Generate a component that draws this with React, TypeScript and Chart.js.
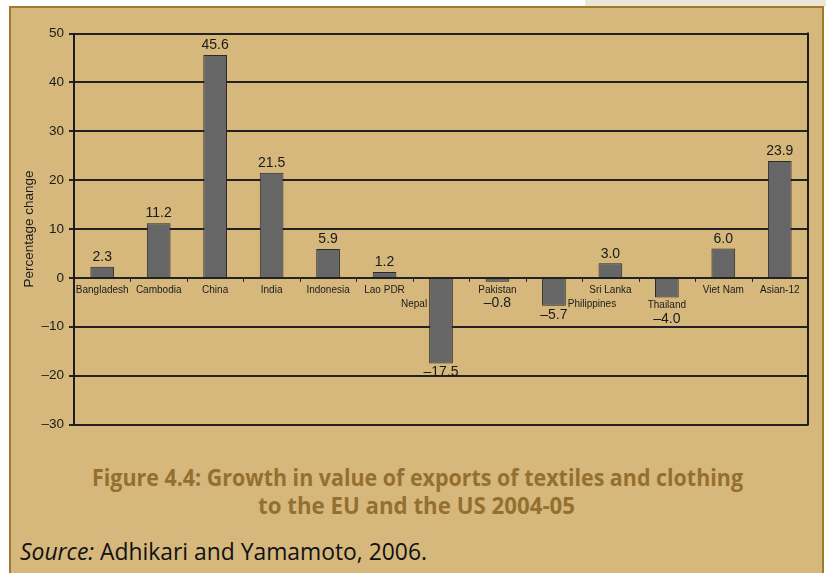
import React, { useEffect, useLayoutEffect, useRef } from "react";
import { Chart, registerables } from "chart.js";

Chart.register(...registerables);

const categories = [
  "Bangladesh", "Cambodia", "China", "India", "Indonesia", "Lao PDR", "Nepal",
  "Pakistan", "Philippines", "Sri Lanka", "Thailand", "Viet Nam", "Asian-12",
];
const growth = [2.3, 11.2, 45.6, 21.5, 5.9, 1.2, -17.5, -0.8, -5.7, 3.0, -4.0, 6.0, 23.9];
const yMin = -30;
const yMax = 50;
const yStep = 10;

const titleLines = [
  "Figure 4.4: Growth in value of exports of textiles and clothing",
  "to the EU and the US 2004-05",
];
const sourceLabel = "Source:";
const sourceText = " Adhikari and Yamamoto, 2006.";

// label layout hints (which negative bars carry their name beside the bar)
const sideLabel: Record<string, "left" | "right"> = { Nepal: "left", Philippines: "right" };

const dash = (v: number) => (v < 0 ? "\u2013" + Math.abs(v) : String(v));
const fmt = (v: number) => (v < 0 ? "\u2013" + Math.abs(v).toFixed(1) : v.toFixed(1));

const labelsPlugin = {
  id: "customLabels",
  afterDatasetsDraw(chart: any) {
    const { ctx, chartArea } = chart;
    const y = chart.scales.y;
    const y0 = y.getPixelForValue(0);
    ctx.save();
    ctx.strokeStyle = "#1c1c1c";
    ctx.lineWidth = 2;
    ctx.beginPath();
    ctx.moveTo(chartArea.right, chartArea.top - 1);
    ctx.lineTo(chartArea.right, chartArea.bottom + 1);
    ctx.stroke();
    ctx.lineWidth = 1;
    const n = categories.length;
    const step = (chartArea.right - chartArea.left) / n;
    for (let i = 1; i < n; i++) {
      const bx = Math.round(chartArea.left + step * i) + 0.5;
      ctx.beginPath();
      ctx.moveTo(bx, y0);
      ctx.lineTo(bx, y0 + 4);
      ctx.stroke();
    }
    const meta = chart.getDatasetMeta(0);
    const small = "10px 'Liberation Sans', Arial, sans-serif";
    const big = "14px 'Liberation Sans', Arial, sans-serif";
    meta.data.forEach((bar: any, i: number) => {
      const v = growth[i];
      const name = categories[i];
      const cx = bar.x;
      const half = bar.width / 2;
      const end = bar.y;
      ctx.fillStyle = "#1a1a1a";
      ctx.textBaseline = "middle";
      if (v >= 0) {
        ctx.font = small;
        ctx.textAlign = "center";
        ctx.fillText(name, cx, y0 + 12.5);
        ctx.font = big;
        ctx.fillText(fmt(v), cx, end - 9.5);
      } else if (sideLabel[name]) {
        ctx.font = small;
        const side = sideLabel[name];
        ctx.textAlign = side === "left" ? "right" : "left";
        ctx.fillText(name, side === "left" ? cx - half - 2 : cx + half + 2, y0 + 26.5);
        ctx.font = big;
        ctx.textAlign = "center";
        ctx.fillText(fmt(v), cx, end + 9);
      } else {
        const ly = Math.max(y0 + 12, end + 8);
        ctx.font = small;
        ctx.textAlign = "center";
        ctx.fillText(name, cx, ly);
        ctx.font = big;
        ctx.fillText(fmt(v), cx, ly + 13.5);
      }
    });
    ctx.restore();
  },
};

function BarChart() {
  const ref = useRef<HTMLCanvasElement | null>(null);
  useEffect(() => {
    if (!ref.current) return;
    const chart = new Chart(ref.current, {
      type: "bar",
      data: {
        labels: categories,
        datasets: [
          {
            data: growth,
            backgroundColor: "#666666",
            borderColor: "#2a2a2a",
            borderWidth: 1,
            barPercentage: 0.42,
            categoryPercentage: 1,
          },
        ],
      },
      options: {
        animation: false,
        responsive: true,
        maintainAspectRatio: false,
        layout: { padding: { left: 0, top: 33.5, right: 18, bottom: 15.5 } },
        plugins: { legend: { display: false }, tooltip: { enabled: false } },
        scales: {
          x: { display: false },
          y: {
            min: yMin,
            max: yMax,
            ticks: {
              stepSize: yStep,
              padding: 5,
              color: "#1a1a1a",
              font: { family: "'Liberation Sans', Arial, sans-serif", size: 13.5 },
              callback: (v: any) => dash(Number(v)),
            },
            grid: { color: "#222222", lineWidth: 2, tickLength: 5, drawTicks: true },
            border: { display: true, color: "#1c1c1c", width: 2 },
            title: {
              display: true,
              text: "Percentage change",
              color: "#1a1a1a",
              font: { family: "'Liberation Sans', Arial, sans-serif", size: 13.5 },
              padding: { top: 21, bottom: 0 },
            },
            afterFit: (scale: any) => {
              scale.width = 74;
            },
          },
        },
      },
      plugins: [labelsPlugin],
    });
    return () => chart.destroy();
  }, []);
  return <canvas ref={ref} />;
}

// squeeze a single line of text horizontally to a target width (mimics the condensed print face)
function FitLine({ text, width, style, children }: any) {
  const ref = useRef<HTMLSpanElement | null>(null);
  useLayoutEffect(() => {
    const el = ref.current;
    if (!el) return;
    el.style.transform = "none";
    const w = el.getBoundingClientRect().width;
    if (w > 0) el.style.transform = `scaleX(${width / w})`;
  }, [width]);
  return (
    <span ref={ref} style={{ display: "inline-block", whiteSpace: "nowrap", transformOrigin: "left center", ...style }}>
      {children ?? text}
    </span>
  );
}

export default function App() {
  const titleStyle = {
    fontFamily: "'Open Sans', 'Noto Sans', sans-serif",
    fontWeight: 700,
    fontSize: 23,
    lineHeight: "27px",
    color: "#947030",
  };
  return (
    <div style={{ position: "absolute", left: 0, top: 0, width: 826, height: 573, background: "#ffffff", overflow: "hidden" }}>
      <div style={{ position: "absolute", left: 585, top: 0, width: 241, height: 7, background: "#ede6d8" }} />
      <div
        style={{
          position: "absolute", left: 9, top: 6, width: 815, height: 620, boxSizing: "border-box",
          background: "#d6b87d", border: "2px solid #9e7a2c",
        }}
      />
      <div style={{ position: "absolute", left: 0, top: 0, width: 826, height: 440 }}>
        <BarChart />
      </div>
      <div style={{ position: "absolute", left: 92, top: 464 }}>
        <FitLine text={titleLines[0]} width={651} style={titleStyle} />
      </div>
      <div style={{ position: "absolute", left: 258, top: 492 }}>
        <FitLine text={titleLines[1]} width={317} style={titleStyle} />
      </div>
      <div style={{ position: "absolute", left: 20, top: 536 }}>
        <FitLine
          width={407}
          style={{ fontFamily: "'Open Sans', 'Noto Sans', sans-serif", fontSize: 24, lineHeight: "30px", color: "#111111" }}
        >
          <i>{sourceLabel}</i>
          {sourceText}
        </FitLine>
      </div>
    </div>
  );
}
